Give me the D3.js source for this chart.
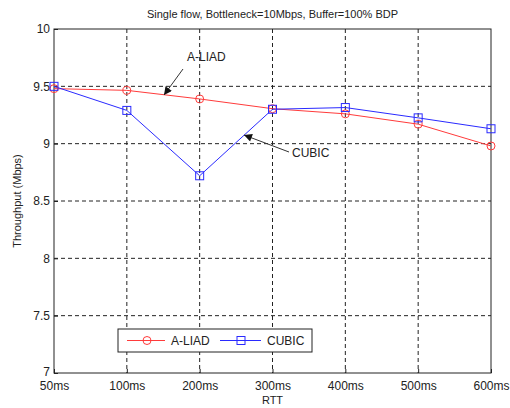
<!DOCTYPE html>
<html>
<head>
<meta charset="utf-8">
<script src="https://cdn.jsdelivr.net/npm/d3@7"></script>
<style>
body { margin: 0; background: #fff; }
text { font-family: "Liberation Sans", Arial, sans-serif; fill: #222; }
</style>
</head>
<body>
<svg id="chart" width="510" height="408"></svg>
<script>
var rttLabels = ["50ms", "100ms", "200ms", "300ms", "400ms", "500ms", "600ms"];
var aliadValues = [9.48, 9.465, 9.39, 9.305, 9.26, 9.17, 8.98];
var cubicValues = [9.50, 9.29, 8.72, 9.30, 9.315, 9.225, 9.13];
var yTicks = [7, 7.5, 8, 8.5, 9, 9.5, 10];

var margin = { left: 54, right: 19, top: 29, bottom: 35 };
var width = 510, height = 408;

var svg = d3.select("#chart");

var x = d3.scalePoint()
    .domain(rttLabels)
    .range([margin.left, width - margin.right]);

var y = d3.scaleLinear()
    .domain([7, 10])
    .range([height - margin.bottom, margin.top]);

var plotW = width - margin.right - margin.left;
var plotH = height - margin.bottom - margin.top;

// Grid
svg.append("g")
    .selectAll("line")
    .data(rttLabels.slice(1, -1))
    .enter()
    .append("line")
    .attr("x1", function(d) { return x(d); })
    .attr("x2", function(d) { return x(d); })
    .attr("y1", margin.top)
    .attr("y2", height - margin.bottom)
    .attr("stroke", "#222")
    .attr("stroke-width", 1)
    .attr("stroke-dasharray", "4,3");

svg.append("g")
    .selectAll("line")
    .data(yTicks.slice(1, -1))
    .enter()
    .append("line")
    .attr("x1", margin.left)
    .attr("x2", width - margin.right)
    .attr("y1", function(d) { return y(d); })
    .attr("y2", function(d) { return y(d); })
    .attr("stroke", "#222")
    .attr("stroke-width", 1)
    .attr("stroke-dasharray", "4,3");

// Axes
var xAxis = svg.append("g")
    .attr("transform", "translate(0," + (height - margin.bottom) + ")")
    .call(d3.axisBottom(x).tickSizeInner(-4).tickSizeOuter(0).tickPadding(8));

var yAxis = svg.append("g")
    .attr("transform", "translate(" + margin.left + ",0)")
    .call(d3.axisLeft(y).tickValues(yTicks).tickFormat(d3.format("")).tickSizeInner(-4).tickSizeOuter(0).tickPadding(4));

[xAxis, yAxis].forEach(function(a) {
    a.select(".domain").remove();
    a.selectAll("line").attr("stroke", "#222");
    a.selectAll("text")
        .style("font-family", "'Liberation Sans', Arial, sans-serif")
        .style("font-size", "12px")
        .attr("fill", "#222");
});

// nudge the bottom y label up a little so it clears the first x label
yAxis.selectAll(".tick text")
    .filter(function(d) { return d == 7; })
    .attr("dy", "0.2em");

svg.append("rect")
    .attr("x", margin.left)
    .attr("y", margin.top)
    .attr("width", plotW)
    .attr("height", plotH)
    .attr("fill", "none")
    .attr("stroke", "#222")
    .attr("stroke-width", 1);

// Titles
svg.append("text")
    .attr("x", margin.left + plotW / 2)
    .attr("y", 18)
    .attr("text-anchor", "middle")
    .style("font-size", "11px")
    .text("Single flow, Bottleneck=10Mbps, Buffer=100% BDP");

svg.append("text")
    .attr("x", margin.left + plotW / 2)
    .attr("y", 404)
    .attr("text-anchor", "middle")
    .style("font-size", "11px")
    .text("RTT");

svg.append("text")
    .attr("transform", "translate(21," + (margin.top + plotH / 2) + ") rotate(-90)")
    .attr("text-anchor", "middle")
    .style("font-size", "11px")
    .text("Throughput (Mbps)");

// Series
var line = d3.line()
    .x(function(d, i) { return x(rttLabels[i]); })
    .y(function(d) { return y(d); });

var red = "#ff3b3b";
var blue = "#2a2aff";

svg.append("path")
    .datum(aliadValues)
    .attr("d", line)
    .attr("fill", "none")
    .attr("stroke", red)
    .attr("stroke-width", 1);

svg.append("path")
    .datum(cubicValues)
    .attr("d", line)
    .attr("fill", "none")
    .attr("stroke", blue)
    .attr("stroke-width", 1);

svg.append("g")
    .selectAll("circle")
    .data(aliadValues)
    .enter()
    .append("circle")
    .attr("cx", function(d, i) { return x(rttLabels[i]); })
    .attr("cy", function(d) { return y(d); })
    .attr("r", 4)
    .attr("fill", "none")
    .attr("stroke", red);

svg.append("g")
    .selectAll("rect")
    .data(cubicValues)
    .enter()
    .append("rect")
    .attr("x", function(d, i) { return x(rttLabels[i]) - 4; })
    .attr("y", function(d) { return y(d) - 4; })
    .attr("width", 8)
    .attr("height", 8)
    .attr("fill", "none")
    .attr("stroke", blue);

// Annotations
svg.append("defs").append("marker")
    .attr("id", "arrow")
    .attr("viewBox", "0 0 10 10")
    .attr("refX", 10)
    .attr("refY", 5)
    .attr("markerWidth", 10)
    .attr("markerHeight", 8)
    .attr("markerUnits", "userSpaceOnUse")
    .attr("orient", "auto")
    .append("path")
    .attr("d", "M0,0 L10,5 L0,10 Z")
    .attr("fill", "#111");

svg.append("line")
    .attr("x1", 183).attr("y1", 69)
    .attr("x2", 164).attr("y2", 95)
    .attr("stroke", "#333")
    .attr("marker-end", "url(#arrow)");

svg.append("text")
    .attr("x", 187)
    .attr("y", 61)
    .style("font-size", "12px")
    .text("A-LIAD");

svg.append("line")
    .attr("x1", 289).attr("y1", 152)
    .attr("x2", 244).attr("y2", 135)
    .attr("stroke", "#333")
    .attr("marker-end", "url(#arrow)");

svg.append("text")
    .attr("x", 292)
    .attr("y", 157)
    .style("font-size", "12px")
    .text("CUBIC");

// Legend
var legend = svg.append("g");
legend.append("rect")
    .attr("x", 118).attr("y", 329)
    .attr("width", 194).attr("height", 23)
    .attr("fill", "#fff")
    .attr("stroke", "#222");

var ly = 340.5;
legend.append("line").attr("x1", 127).attr("x2", 165).attr("y1", ly).attr("y2", ly).attr("stroke", red);
legend.append("circle").attr("cx", 147).attr("cy", ly).attr("r", 4).attr("fill", "none").attr("stroke", red);
legend.append("text").attr("x", 171).attr("y", ly + 4.5).style("font-size", "12px").text("A-LIAD");

legend.append("line").attr("x1", 220).attr("x2", 261).attr("y1", ly).attr("y2", ly).attr("stroke", blue);
legend.append("rect").attr("x", 237).attr("y", ly - 4).attr("width", 8).attr("height", 8).attr("fill", "none").attr("stroke", blue);
legend.append("text").attr("x", 267).attr("y", ly + 4.5).style("font-size", "12px").text("CUBIC");
</script>
</body>
</html>
